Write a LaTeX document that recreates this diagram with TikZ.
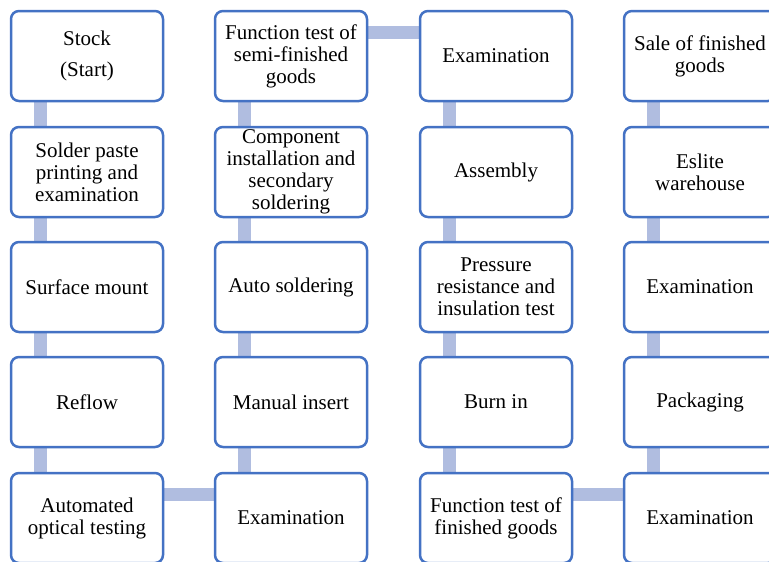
\documentclass[tikz,border=0pt]{standalone}
\usepackage{fontspec}
\setmainfont{Liberation Serif}
\usetikzlibrary{backgrounds}
\definecolor{boxblue}{RGB}{68,114,196}
\definecolor{barblue}{RGB}{176,189,224}
\begin{document}
\begin{tikzpicture}[x=1pt,y=-1pt,
  stepbox/.style={draw=boxblue, line width=2.5pt, fill=white, rounded corners=8pt,
    minimum width=152pt, minimum height=90pt, align=center, inner sep=2pt,
    font=\fontsize{21pt}{22pt}\selectfont},
  bar/.style={draw=barblue, line width=13pt}]
\useasboundingbox (0,0) rectangle (769,562);
\clip (0,0) rectangle (769,562);
% column centres 87, 291, 496, 700 ; row centres 56, 172, 287, 402, 518
\node[stepbox] (a1) at (87,56)  {Stock\\[9pt](Start)};
\node[stepbox] (a2) at (87,172) {Solder paste\\printing and\\examination};
\node[stepbox] (a3) at (87,287) {Surface mount};
\node[stepbox] (a4) at (87,402) {Reflow};
\node[stepbox] (a5) at (87,518) {Automated\\optical testing};
\node[stepbox] (b5) at (291,518) {Examination};
\node[stepbox] (b4) at (291,402) {Manual insert};
\node[stepbox] (b3) at (291,287) {Auto soldering};
\node[stepbox] (b2) at (291,172) {Component\\installation and\\secondary\\soldering};
\node[stepbox] (b1) at (291,56)  {Function test of\\semi-finished\\goods};
\node[stepbox] (c1) at (496,56)  {Examination};
\node[stepbox] (c2) at (496,172) {Assembly};
\node[stepbox] (c3) at (496,287) {Pressure\\resistance and\\insulation test};
\node[stepbox] (c4) at (496,402) {Burn in};
\node[stepbox] (c5) at (496,518) {Function test of\\finished goods};
\node[stepbox] (d5) at (700,518) {Examination};
\node[stepbox] (d4) at (700,402) {Packaging};
\node[stepbox] (d3) at (700,287) {Examination};
\node[stepbox] (d2) at (700,172) {Eslite\\warehouse};
\node[stepbox] (d1) at (700,56)  {Sale of finished\\goods};
% connectors behind the boxes
\begin{pgfonlayer}{background}
\foreach \col in {a,b,c,d}{
  \foreach \i [evaluate=\i as \j using int(\i+1)] in {1,2,3,4}{
    \draw[bar] ([xshift=31pt,yshift=4pt]\col\i.south west) -- ([xshift=31pt,yshift=-4pt]\col\j.north west);
  }
}
\draw[bar] ([xshift=-4pt,yshift=-23pt]a5.north east) -- ([xshift=4pt,yshift=-23pt]b5.north west);
\draw[bar] ([xshift=-4pt,yshift=-23pt]b1.north east) -- ([xshift=4pt,yshift=-23pt]c1.north west);
\draw[bar] ([xshift=-4pt,yshift=-23pt]c5.north east) -- ([xshift=4pt,yshift=-23pt]d5.north west);
\end{pgfonlayer}
\end{tikzpicture}
\end{document}
